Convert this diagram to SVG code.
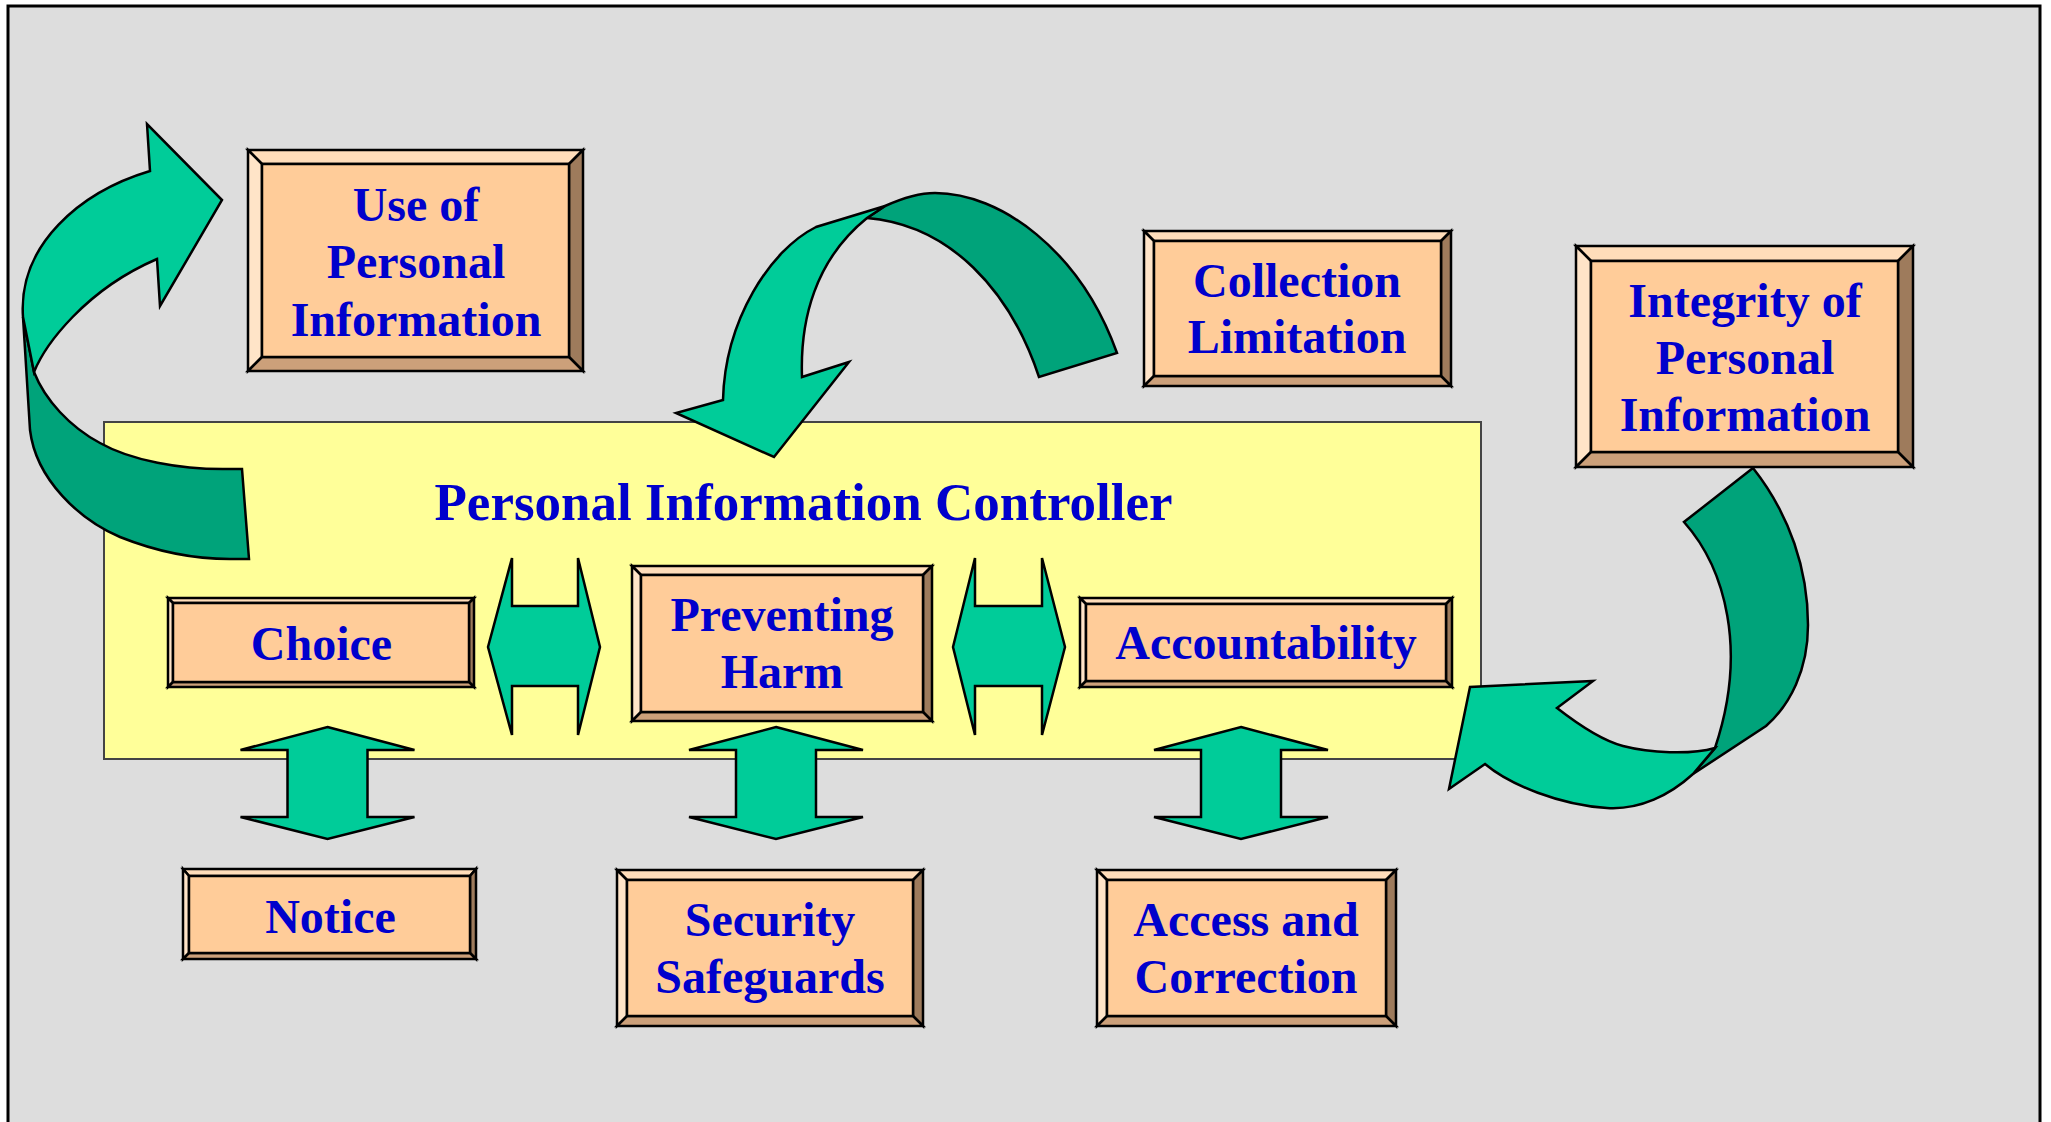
<svg xmlns="http://www.w3.org/2000/svg" xmlns:xlink="http://www.w3.org/1999/xlink" width="2051" height="1122" viewBox="0 0 2051 1122">
  <style>
    .frame { fill: #DDDDDD; stroke: #000000; stroke-width: 3; }
    .ctrl { fill: #FFFF99; stroke: #444444; stroke-width: 2; }
    .bv { stroke: #000000; stroke-width: 2.5; stroke-linejoin: miter; }
    .bt { fill: #FFDDBA; }
    .bl { fill: #FFE4C8; }
    .br { fill: #9E7B5C; }
    .bb { fill: #CCA07A; }
    .face { fill: #FFCC99; stroke: #000000; stroke-width: 2.5; }
    .lbl { font-family: "Liberation Serif", "Times New Roman", serif; font-weight: bold; font-size: 48px; fill: #0000CC; text-anchor: middle; }
    .title { font-size: 53px; }
    .lt { fill: #00CC99; stroke: #000000; stroke-width: 2.5; stroke-linejoin: miter; }
    .dk { fill: #00A37A; stroke: #000000; stroke-width: 2.5; stroke-linejoin: miter; }
  </style>
  <defs>
    <!-- vertical double-headed block arrow, centred on x = 0 -->
    <path id="vArrow" class="lt" d="M0,727 L87,750 L40,750 L40,817 L87,817 L0,839 L-87,817 L-40,817 L-40,750 L-87,750 Z"/>
  </defs>

  <!-- background panel -->
  <rect class="frame" x="8" y="6" width="2032" height="1130"/>

  <!-- controller area -->
  <g id="controller">
    <rect class="ctrl" x="104" y="422" width="1377" height="337"/>
    <text class="lbl title" x="803.5" y="520">Personal Information Controller</text>
  </g>

  <!-- connectors -->
  <g id="connectors">
    <!-- loop from controller up to "Use of Personal Information" -->
    <path class="dk" d="M23,317 L30,430 C36,480 80,520 120,537 C160,553 200,559 230,559 L249,559 L242,469 L230,469 C180,470 130,460 100,443 C70,427 45,400 34,372 Z"/>
    <path class="lt" d="M34,372 C45,345 85,290 157,259 L160,306 L222,200 L147,124 L150,171 C80,192 18,245 23,317 Z"/>

    <!-- arch from "Collection Limitation" down into controller -->
    <path class="dk" d="M867,218 L885,206 C905,197 920,193 935,193 C1000,193 1080,250 1117,353 L1039,377 C1010,290 950,225 867,218 Z"/>
    <path class="lt" d="M723,400 L676,413 L774,457 L849,362 L802,377 C800,320 815,260 867,218 L885,206 L816,227 C770,250 725,320 723,400 Z"/>

    <!-- loop from "Integrity of Personal Information" back into controller -->
    <path class="dk" d="M1753,468 L1684,522 C1725,568 1748,650 1715,748 L1693,774 L1766,726 C1790,705 1808,670 1808,625 C1808,570 1790,515 1753,468 Z"/>
    <path class="lt" d="M1715,748 C1690,755 1650,753 1623,746 C1600,740 1575,722 1557,708 L1593,681 L1470,687 L1449,789 L1485,764 C1510,785 1560,805 1607,808 C1640,810 1670,795 1693,774 Z"/>

    <!-- horizontal links between the controller boxes -->
    <path class="lt" d="M488,647 L512,558 L512,606 L578,606 L578,558 L600,647 L578,735 L578,686 L512,686 L512,735 Z"/>
    <path class="lt" d="M953,647 L975,558 L975,606 L1042,606 L1042,558 L1065,647 L1042,735 L1042,686 L975,686 L975,735 Z"/>

    <!-- vertical links to the lower boxes -->
    <use xlink:href="#vArrow" href="#vArrow" transform="translate(327.5,0)"/>
    <use xlink:href="#vArrow" href="#vArrow" transform="translate(776,0)"/>
    <use xlink:href="#vArrow" href="#vArrow" transform="translate(1241,0)"/>
  </g>

  <!-- bevelled boxes: top, left, right, bottom bevel then face -->
  <g id="use-of-personal-information">
    <polygon class="bv bt" points="248,150 583,150 569,164 262,164"/>
    <polygon class="bv bl" points="248,150 262,164 262,357 248,371"/>
    <polygon class="bv br" points="583,150 583,371 569,357 569,164"/>
    <polygon class="bv bb" points="248,371 583,371 569,357 262,357"/>
    <rect class="face" x="262" y="164" width="307" height="193"/>
    <text class="lbl" x="416" y="221">Use of</text>
    <text class="lbl" x="416" y="278">Personal</text>
    <text class="lbl" x="416" y="336">Information</text>
  </g>

  <g id="collection-limitation">
    <polygon class="bv bt" points="1144,231 1451,231 1441,241 1154,241"/>
    <polygon class="bv bl" points="1144,231 1154,241 1154,376 1144,386"/>
    <polygon class="bv br" points="1451,231 1451,386 1441,376 1441,241"/>
    <polygon class="bv bb" points="1144,386 1451,386 1441,376 1154,376"/>
    <rect class="face" x="1154" y="241" width="287" height="135"/>
    <text class="lbl" x="1297" y="297">Collection</text>
    <text class="lbl" x="1297" y="353">Limitation</text>
  </g>

  <g id="integrity-of-personal-information">
    <polygon class="bv bt" points="1576,246 1913,246 1898,261 1591,261"/>
    <polygon class="bv bl" points="1576,246 1591,261 1591,452 1576,467"/>
    <polygon class="bv br" points="1913,246 1913,467 1898,452 1898,261"/>
    <polygon class="bv bb" points="1576,467 1913,467 1898,452 1591,452"/>
    <rect class="face" x="1591" y="261" width="307" height="191"/>
    <text class="lbl" x="1745" y="317">Integrity of</text>
    <text class="lbl" x="1745" y="374">Personal</text>
    <text class="lbl" x="1745" y="431">Information</text>
  </g>

  <g id="choice">
    <polygon class="bv bt" points="168,598 474,598 469,603 173,603"/>
    <polygon class="bv bl" points="168,598 173,603 173,682 168,687"/>
    <polygon class="bv br" points="474,598 474,687 469,682 469,603"/>
    <polygon class="bv bb" points="168,687 474,687 469,682 173,682"/>
    <rect class="face" x="173" y="603" width="296" height="79"/>
    <text class="lbl" x="321.5" y="660">Choice</text>
  </g>

  <g id="preventing-harm">
    <polygon class="bv bt" points="632,566 932,566 923,575 641,575"/>
    <polygon class="bv bl" points="632,566 641,575 641,712 632,721"/>
    <polygon class="bv br" points="932,566 932,721 923,712 923,575"/>
    <polygon class="bv bb" points="632,721 932,721 923,712 641,712"/>
    <rect class="face" x="641" y="575" width="282" height="137"/>
    <text class="lbl" x="782" y="631">Preventing</text>
    <text class="lbl" x="782" y="688">Harm</text>
  </g>

  <g id="accountability">
    <polygon class="bv bt" points="1080,598 1452,598 1446,604 1086,604"/>
    <polygon class="bv bl" points="1080,598 1086,604 1086,681 1080,687"/>
    <polygon class="bv br" points="1452,598 1452,687 1446,681 1446,604"/>
    <polygon class="bv bb" points="1080,687 1452,687 1446,681 1086,681"/>
    <rect class="face" x="1086" y="604" width="360" height="77"/>
    <text class="lbl" x="1266" y="659">Accountability</text>
  </g>

  <g id="notice">
    <polygon class="bv bt" points="183,869 476,869 470,876 189,876"/>
    <polygon class="bv bl" points="183,869 189,876 189,953 183,959"/>
    <polygon class="bv br" points="476,869 476,959 470,953 470,876"/>
    <polygon class="bv bb" points="183,959 476,959 470,953 189,953"/>
    <rect class="face" x="189" y="876" width="281" height="77"/>
    <text class="lbl" x="330.5" y="933">Notice</text>
  </g>

  <g id="security-safeguards">
    <polygon class="bv bt" points="617,870 923,870 913,880 627,880"/>
    <polygon class="bv bl" points="617,870 627,880 627,1016 617,1026"/>
    <polygon class="bv br" points="923,870 923,1026 913,1016 913,880"/>
    <polygon class="bv bb" points="617,1026 923,1026 913,1016 627,1016"/>
    <rect class="face" x="627" y="880" width="286" height="136"/>
    <text class="lbl" x="770" y="936">Security</text>
    <text class="lbl" x="770" y="993">Safeguards</text>
  </g>

  <g id="access-and-correction">
    <polygon class="bv bt" points="1097,870 1396,870 1386,880 1107,880"/>
    <polygon class="bv bl" points="1097,870 1107,880 1107,1016 1097,1026"/>
    <polygon class="bv br" points="1396,870 1396,1026 1386,1016 1386,880"/>
    <polygon class="bv bb" points="1097,1026 1396,1026 1386,1016 1107,1016"/>
    <rect class="face" x="1107" y="880" width="279" height="136"/>
    <text class="lbl" x="1246" y="936">Access and</text>
    <text class="lbl" x="1246" y="993">Correction</text>
  </g>
</svg>
